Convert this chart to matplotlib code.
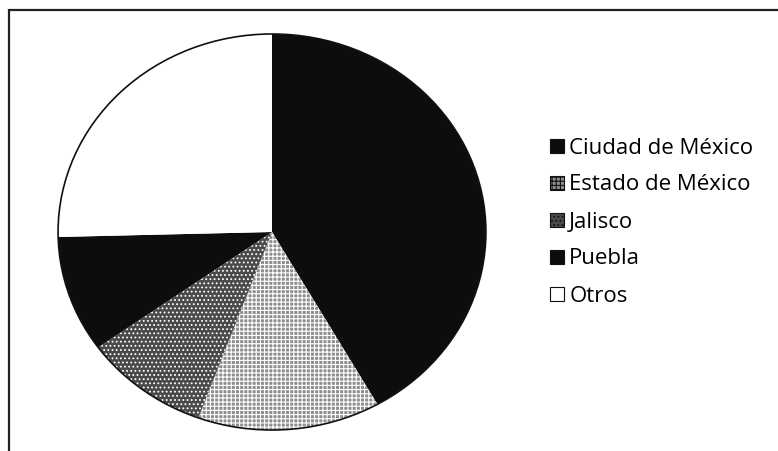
import matplotlib.pyplot as plt
from matplotlib.patches import Rectangle, Ellipse

# datos
estados = ['Ciudad de México', 'Estado de México', 'Jalisco', 'Puebla', 'Otros']
valores = [41.8, 13.8, 9.5, 9.5, 25.4]
colores = ['#0d0d0d', '#8f8f8f', '#4a4a4a', '#0d0d0d', '#ffffff']
tramas = ['', '++++', '....', '', '']

plt.rcParams['font.family'] = ['Open Sans', 'DejaVu Sans']
plt.rcParams['hatch.linewidth'] = 0.8

fig = plt.figure(figsize=(7.78, 4.51), dpi=100)

# marco del grafico
fig.patches.append(Rectangle((9 / 778, -0.1), 1.2, 441 / 451 + 0.1,
                             transform=fig.transFigure, fill=False,
                             edgecolor='#222222', linewidth=1.6))

ax = fig.add_axes([57 / 778, 20 / 451, 430 / 778, 398 / 451])
wedges, _ = ax.pie(valores, colors=colores, startangle=90, counterclock=False,
                   radius=1, wedgeprops=dict(linewidth=0, edgecolor='white'))
for w, t in zip(wedges, tramas):
    if t:
        w.set_hatch(t)
ax.add_patch(Ellipse((0, 0), 2, 2, fill=False, edgecolor='#111111', linewidth=1.2))
ax.set_aspect('auto')
ax.set_xlim(-1.005, 1.005)
ax.set_ylim(-1.005, 1.005)
ax.axis('off')

handles = []
for c, t in zip(colores, tramas):
    handles.append(Rectangle((0, 0), 1, 1, facecolor=c, hatch=t,
                             edgecolor='#111111', linewidth=0.8))
fig.legend(handles, estados, loc='center left', bbox_to_anchor=(541 / 778, (451 - 222) / 451),
           frameon=False, fontsize=16, handlelength=0.62, handleheight=0.6,
           handletextpad=0.25, labelspacing=0.72, borderaxespad=0)

fig.savefig('out.png', dpi=100, facecolor='white')
